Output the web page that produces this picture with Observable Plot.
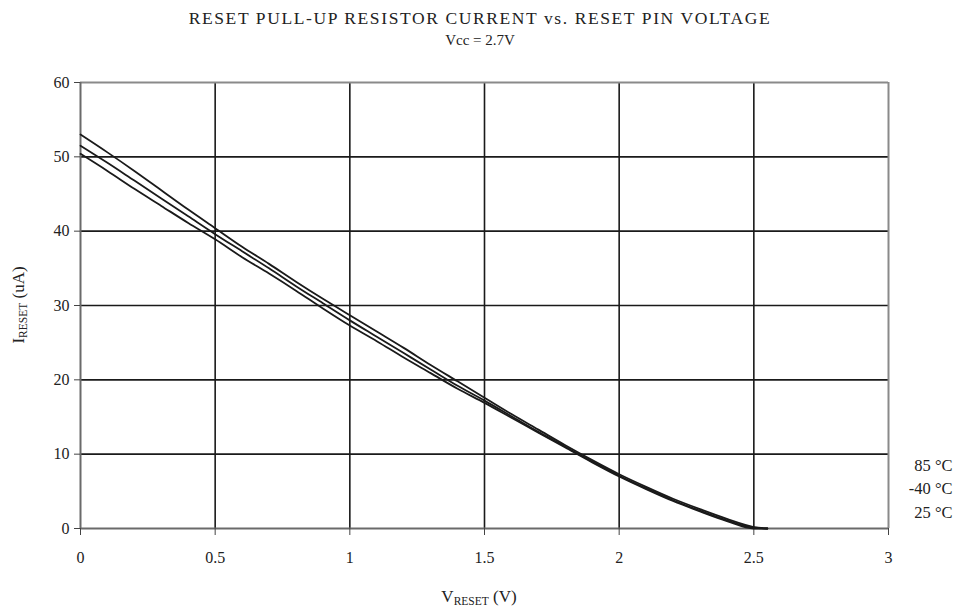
<!DOCTYPE html>
<html><head><meta charset="utf-8">
<script src="https://cdn.jsdelivr.net/npm/d3@7"></script>
<script src="https://cdn.jsdelivr.net/npm/@observablehq/plot@0.6"></script>
<style>body{margin:0;background:#fff;} svg{font-family:"Liberation Serif","Times New Roman",serif;}</style>
</head><body><div id="chart"></div>
<script>
const voltage = [0, 0.1, 0.2, 0.3, 0.4, 0.5, 0.6, 0.7, 0.8, 0.9, 1.0, 1.1, 1.2, 1.3, 1.4, 1.5, 1.6, 1.7, 1.8, 1.9, 2.0, 2.1, 2.2, 2.3, 2.4, 2.5, 2.55];
const current85 = [53.0, 50.6, 48.1, 45.5, 42.9, 40.4, 37.9, 35.6, 33.2, 30.9, 28.7, 26.5, 24.3, 22.0, 19.8, 17.6, 15.4, 13.3, 11.2, 9.2, 7.3, 5.6, 4.0, 2.6, 1.3, 0.2, 0];
const currentM40 = [51.5, 49.2, 46.8, 44.4, 42.0, 39.6, 37.3, 35.0, 32.6, 30.3, 28.0, 25.8, 23.6, 21.4, 19.2, 17.2, 15.1, 13.0, 11.0, 9.0, 7.1, 5.4, 3.8, 2.4, 1.1, 0.1, 0];
const current25 = [50.4, 48.1, 45.7, 43.4, 41.1, 38.9, 36.5, 34.3, 32.0, 29.6, 27.3, 25.2, 23.0, 20.9, 18.8, 16.9, 14.9, 12.9, 10.9, 8.9, 7.0, 5.3, 3.7, 2.3, 1.0, 0.0, 0];
const seriesNames = ["85 °C", "-40 °C", "25 °C"];
const xTicks = [0, 0.5, 1, 1.5, 2, 2.5, 3];
const yTicks = [0, 10, 20, 30, 40, 50, 60];
const title = "RESET PULL-UP RESISTOR CURRENT vs. RESET PIN VOLTAGE";
const subtitle = "Vcc = 2.7V";

const allSeries = [current85, currentM40, current25];
const data = allSeries.flatMap((vals, i) => voltage.map((v, j) => ({v, c: vals[j], s: seriesNames[i]})));

const W = 958, H = 615, ml = 80, mr = 70, mt = 82, mb = 87;
const legendMarks = seriesNames.map((s, i) =>
  Plot.text([s], {frameAnchor: "bottom-right", text: d => d, dx: 64, dy: -58 + i * 23.5, textAnchor: "end", fontSize: 16.5, fill: "#222"})
);
const plot = Plot.plot({
  width: W, height: H,
  marginLeft: ml, marginRight: mr, marginTop: mt, marginBottom: mb,
  style: {fontFamily: '"Liberation Serif","Times New Roman",serif', fontSize: "16px", color: "#222"},
  x: {domain: [0, 3], ticks: xTicks, tickFormat: d => String(d)},
  y: {domain: [0, 60], ticks: yTicks},
  marks: [
    Plot.gridX(xTicks.filter(d => d > 0 && d < 3), {stroke: "#1a1a1a", strokeOpacity: 1, strokeWidth: 1.6}),
    Plot.gridY(yTicks.filter(d => d > 0 && d < 60), {stroke: "#1a1a1a", strokeOpacity: 1, strokeWidth: 1.6}),
    Plot.ruleY([60], {stroke: "#8a8a8a", strokeWidth: 2}),
    Plot.ruleX([3], {stroke: "#8a8a8a", strokeWidth: 2}),
    Plot.ruleX([0], {stroke: "#6a6a6a", strokeWidth: 2}),
    Plot.ruleY([0], {stroke: "#6a6a6a", strokeWidth: 2}),
    Plot.axisX({ticks: xTicks, tickSize: 7, tickPadding: 16, stroke: "#444", label: null, tickFormat: d => String(d), fontSize: 16}),
    Plot.axisY({ticks: yTicks, tickSize: 6, tickPadding: 5, stroke: "#444", label: null, fontSize: 16}),
    Plot.line(data, {x: "v", y: "c", z: "s", stroke: "#1a1a1a", strokeWidth: 1.8, curve: "monotone-x"}),
    ...legendMarks
  ]
});
document.getElementById("chart").appendChild(plot);

const svg = d3.select(plot);
svg.append("text").attr("x", 480).attr("y", 24).attr("text-anchor", "middle").attr("font-size", 17.5).attr("letter-spacing", "1.6px").attr("fill", "#222").text(title);
svg.append("text").attr("x", 480).attr("y", 45).attr("text-anchor", "middle").attr("font-size", 15).attr("fill", "#222").text(subtitle);
const xl = svg.append("text").attr("x", 479).attr("y", 602).attr("text-anchor", "middle").attr("font-size", 17).attr("fill", "#222");
xl.append("tspan").text("V");
xl.append("tspan").attr("font-size", 11.5).attr("dy", 3).text("RESET");
xl.append("tspan").attr("dy", -3).text(" (V)");
const yl = svg.append("text").attr("transform", "translate(24,305) rotate(-90)").attr("text-anchor", "middle").attr("font-size", 17).attr("fill", "#222");
yl.append("tspan").text("I");
yl.append("tspan").attr("font-size", 11.5).attr("dy", 3).text("RESET");
yl.append("tspan").attr("dy", -3).text(" (uA)");
</script></body></html>
